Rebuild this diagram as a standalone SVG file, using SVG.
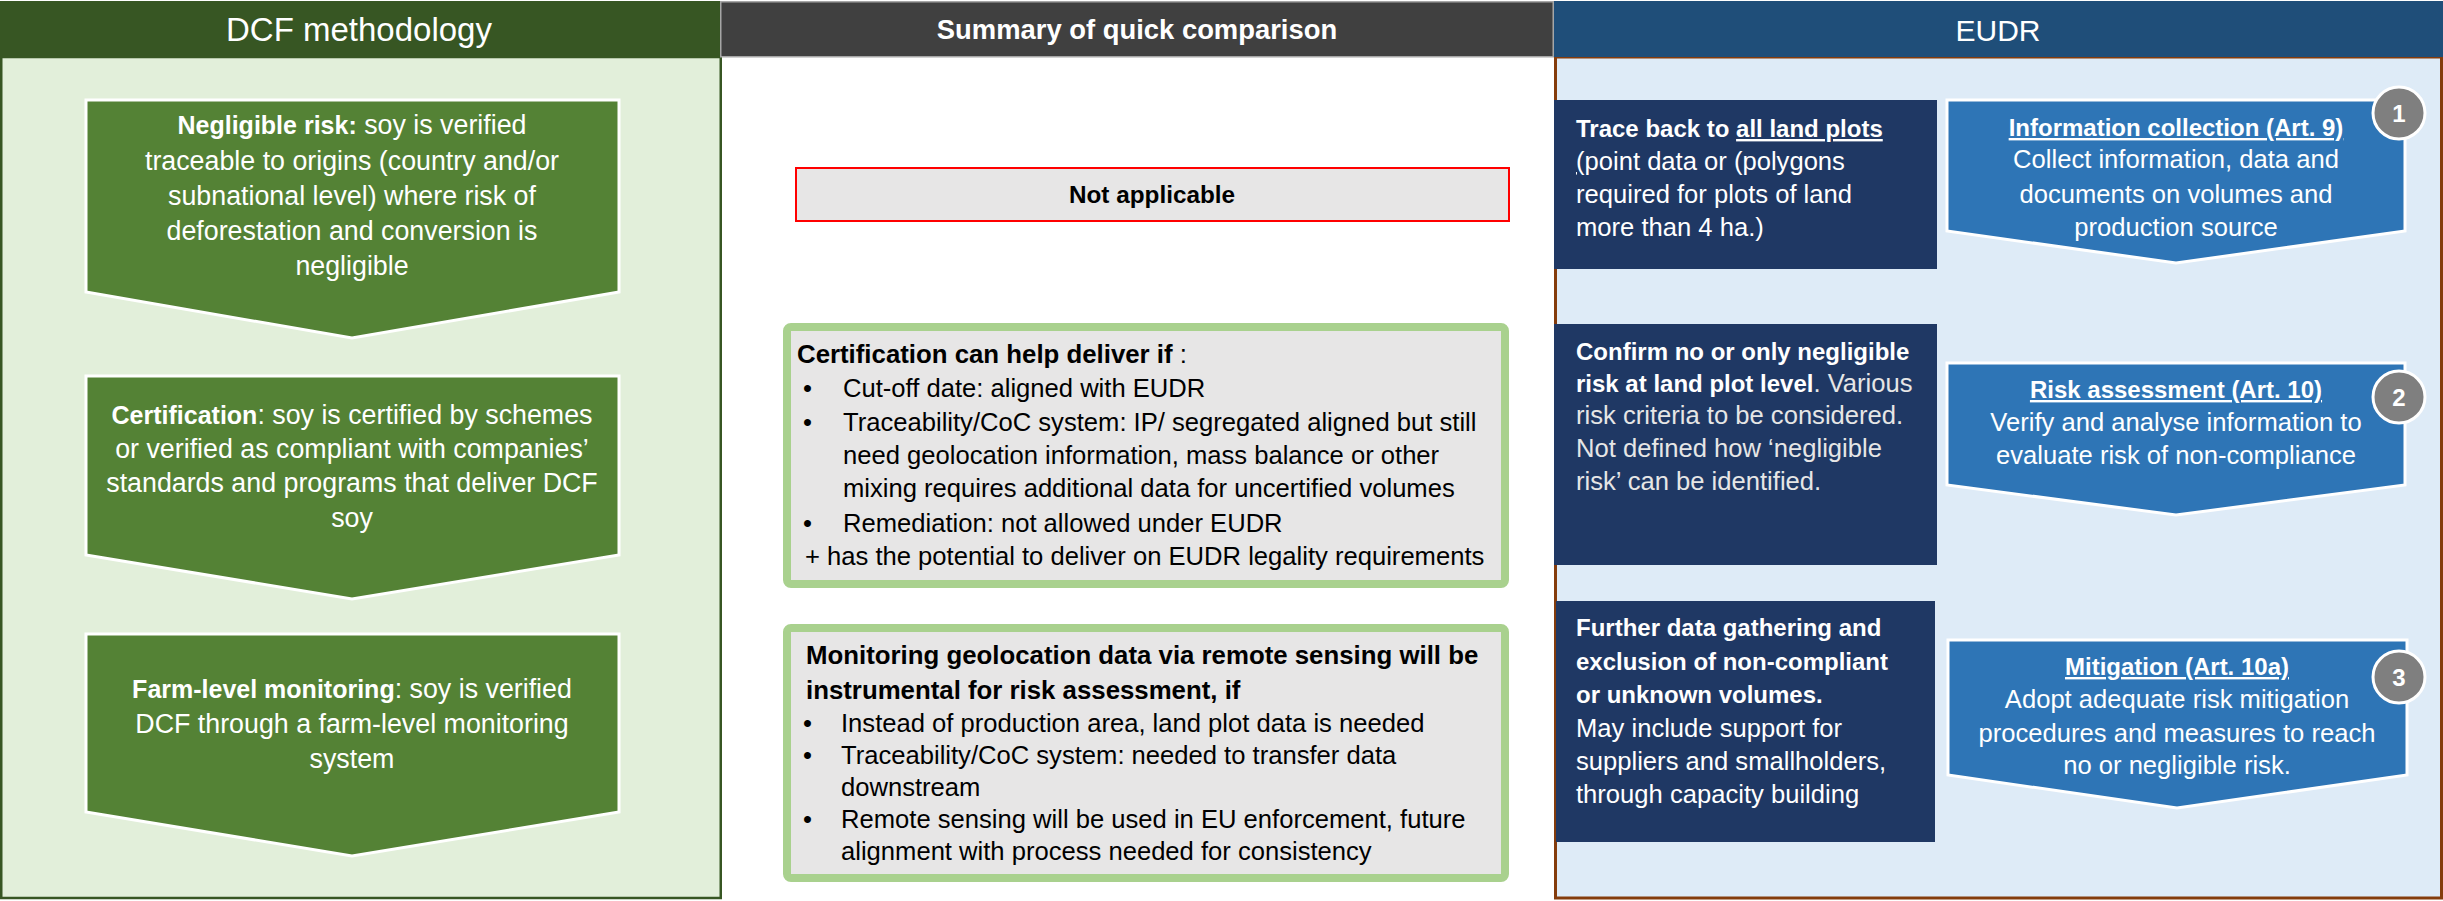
<svg xmlns="http://www.w3.org/2000/svg" width="2443" height="901" viewBox="0 0 2443 901">
<style>
text{font-family:"Liberation Sans",Arial,Helvetica,sans-serif}
.w{fill:#fff}
.k{fill:#000}
.m{text-anchor:middle}
.b{font-weight:bold}
.u{text-decoration:underline}
.lg{font-size:26.8px}
.lgb{font-size:25px;font-weight:bold}
.md{font-size:25.6px}
.mdb{font-size:25.8px;font-weight:bold}
.rt{font-size:25.6px}
.rtb{font-size:24px;font-weight:bold}
.lt{fill:#E6E6E6}
.pg{fill:#548235;stroke:#fff;stroke-width:3}
.pb{fill:#2E75B6;stroke:#fff;stroke-width:3}
.navy{fill:#1F3864}
.cbox{fill:#E7E6E6;stroke:#A9D18E;stroke-width:8}
.num{fill:#7F7F7F;stroke:#fff;stroke-width:3}
</style>
<rect x="0" y="0" width="2443" height="901" fill="#fff"/>

<g id="panel-dcf">
<rect x="1.25" y="57" width="719.5" height="841" fill="#E2EFDA" stroke="#375623" stroke-width="2.5"/>
<rect x="0" y="1" width="720" height="56" fill="#375623"/>
<text x="359" y="41" class="w" font-size="33" text-anchor="middle">DCF methodology</text>
</g>

<g id="panel-summary">
<rect x="720.75" y="1.75" width="832.5" height="55" fill="#404040" stroke="#A6A6A6" stroke-width="1.5"/>
<text x="1137" y="39" class="w b m" font-size="27.4">Summary of quick comparison</text>
</g>

<g id="panel-eudr">
<rect x="1555.5" y="57" width="886" height="841" fill="#DEEBF7" stroke="#843C0C" stroke-width="3"/>
<rect x="1554" y="1" width="889" height="56" fill="#1F4E79"/>
<text x="1998" y="41" class="w m" font-size="30">EUDR</text>
</g>

<g id="dcf-negligible-risk">
<polygon class="pg" points="86,100 619,100 619,292 352,338 86,292"/>
<text x="352" y="134" class="w m lg"><tspan class="lgb">Negligible risk:</tspan> soy is verified</text>
<text x="352" y="170" class="w m lg">traceable to origins (country and/or</text>
<text x="352" y="205" class="w m lg">subnational level) where risk of</text>
<text x="352" y="240" class="w m lg">deforestation and conversion is</text>
<text x="352" y="275" class="w m lg">negligible</text>
</g>

<g id="dcf-certification">
<polygon class="pg" points="86,376 619,376 619,555 352,599 86,555"/>
<text x="352" y="424" class="w m lg"><tspan class="lgb">Certification</tspan>: soy is certified by schemes</text>
<text x="352" y="458" class="w m lg">or verified as compliant with companies’</text>
<text x="352" y="492" class="w m lg">standards and programs that deliver DCF</text>
<text x="352" y="527" class="w m lg">soy</text>
</g>

<g id="dcf-farm-monitoring">
<polygon class="pg" points="86,634 619,634 619,812 352,856 86,812"/>
<text x="352" y="698" class="w m lg"><tspan class="lgb">Farm-level monitoring</tspan>: soy is verified</text>
<text x="352" y="733" class="w m lg">DCF through a farm-level monitoring</text>
<text x="352" y="768" class="w m lg">system</text>
</g>

<g id="summary-not-applicable">
<rect x="796" y="168" width="713" height="53" fill="#E7E6E6" stroke="#FF0000" stroke-width="2"/>
<text x="1152" y="203" class="k b m" font-size="24.3">Not applicable</text>
</g>

<g id="summary-certification">
<rect class="cbox" x="787" y="327" width="718" height="257" rx="4"/>
<text x="797" y="363" class="k mdb">Certification can help deliver if<tspan font-weight="normal"> :</tspan></text>
<text x="803" y="397" class="k md">•</text>
<text x="843" y="397" class="k md">Cut-off date: aligned with EUDR</text>
<text x="803" y="431" class="k md">•</text>
<text x="843" y="431" class="k md">Traceability/CoC system: IP/ segregated aligned but still</text>
<text x="843" y="464" class="k md">need geolocation information, mass balance or other</text>
<text x="843" y="497" class="k md">mixing requires additional data for uncertified volumes</text>
<text x="803" y="532" class="k md">•</text>
<text x="843" y="532" class="k md">Remediation: not allowed under EUDR</text>
<text x="805" y="565" class="k md">+ has the potential to deliver on EUDR legality requirements</text>
</g>

<g id="summary-monitoring">
<rect class="cbox" x="787" y="628" width="718" height="250" rx="4"/>
<text x="806" y="664" class="k mdb">Monitoring geolocation data via remote sensing will be</text>
<text x="806" y="699" class="k mdb">instrumental for risk assessment, if</text>
<text x="803" y="732" class="k md">•</text>
<text x="841" y="732" class="k md">Instead of production area, land plot data is needed</text>
<text x="803" y="764" class="k md">•</text>
<text x="841" y="764" class="k md">Traceability/CoC system: needed to transfer data</text>
<text x="841" y="796" class="k md">downstream</text>
<text x="803" y="828" class="k md">•</text>
<text x="841" y="828" class="k md">Remote sensing will be used in EU enforcement, future</text>
<text x="841" y="860" class="k md">alignment with process needed for consistency</text>
</g>

<g id="eudr-trace-back">
<rect class="navy" x="1554" y="100" width="383" height="169"/>
<text x="1576" y="137" class="w rtb">Trace back to <tspan class="u">all land plots</tspan></text>
<text x="1576" y="170" class="w rt"><tspan class="u">(</tspan>point data or (polygons</text>
<text x="1576" y="203" class="w rt">required for plots of land</text>
<text x="1576" y="236" class="w rt">more than 4 ha.)</text>
</g>

<g id="eudr-confirm-risk">
<rect class="navy" x="1554" y="324" width="383" height="241"/>
<text x="1576" y="360" class="w rtb">Confirm no or only negligible</text>
<text x="1576" y="392" class="w rt"><tspan class="rtb">risk at land plot level</tspan><tspan class="lt">. Various</tspan></text>
<text x="1576" y="424" class="lt rt">risk criteria to be considered.</text>
<text x="1576" y="457" class="lt rt">Not defined how ‘negligible</text>
<text x="1576" y="490" class="lt rt">risk’ can be identified.</text>
</g>

<g id="eudr-further-data">
<rect class="navy" x="1556" y="601" width="379" height="241"/>
<text x="1576" y="636" class="w rtb">Further data gathering and</text>
<text x="1576" y="670" class="w rtb">exclusion of non-compliant</text>
<text x="1576" y="703" class="w rtb">or unknown volumes.</text>
<text x="1576" y="737" class="w rt">May include support for</text>
<text x="1576" y="770" class="w rt">suppliers and smallholders,</text>
<text x="1576" y="803" class="w rt">through capacity building</text>
</g>

<g id="eudr-information-collection">
<polygon class="pb" points="1947,100 2405,100 2405,231 2176,263 1947,231"/>
<text x="2176" y="136" class="w m rtb"><tspan class="u">Information collection (Art. 9)</tspan></text>
<text x="2176" y="168" class="w m rt">Collect information, data and</text>
<text x="2176" y="203" class="w m rt">documents on volumes and</text>
<text x="2176" y="236" class="w m rt">production source</text>
<circle class="num" cx="2399" cy="113" r="26"/>
<text x="2399" y="122" class="w b m" font-size="24">1</text>
</g>

<g id="eudr-risk-assessment">
<polygon class="pb" points="1947,363 2405,363 2405,485 2176,515 1947,485"/>
<text x="2176" y="398" class="w m rtb"><tspan class="u">Risk assessment (Art. 10)</tspan></text>
<text x="2176" y="431" class="w m rt">Verify and analyse information to</text>
<text x="2176" y="464" class="w m rt">evaluate risk of non-compliance</text>
<circle class="num" cx="2399" cy="397" r="26"/>
<text x="2399" y="406" class="w b m" font-size="24">2</text>
</g>

<g id="eudr-mitigation">
<polygon class="pb" points="1948,640 2407,640 2407,775 2177,808 1948,775"/>
<text x="2177" y="675" class="w m rtb"><tspan class="u">Mitigation (Art. 10a)</tspan></text>
<text x="2177" y="708" class="w m rt">Adopt adequate risk mitigation</text>
<text x="2177" y="742" class="w m rt">procedures and measures to reach</text>
<text x="2177" y="774" class="w m rt">no or negligible risk.</text>
<circle class="num" cx="2399" cy="677" r="26"/>
<text x="2399" y="686" class="w b m" font-size="24">3</text>
</g>

<g id="connectors"></g>
</svg>
